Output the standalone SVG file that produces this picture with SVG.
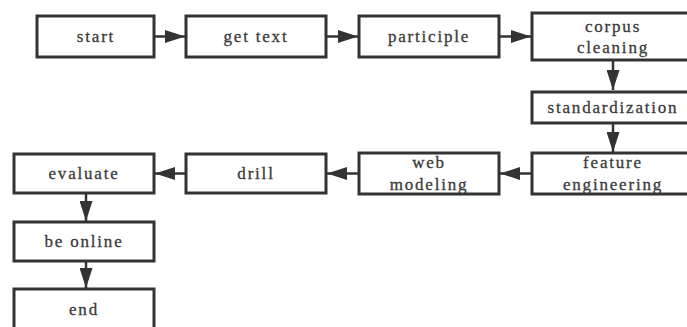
<svg xmlns="http://www.w3.org/2000/svg" width="687" height="327" viewBox="0 0 687 327">
<style>
.box{fill:#fff;stroke:#333;stroke-width:3}
.t{font-family:"Liberation Serif","Times New Roman",serif;font-size:17px;fill:#3a3a3a;letter-spacing:1.8px;text-anchor:middle;stroke:#3a3a3a;stroke-width:0.3}
.c{fill:none;stroke:#333;stroke-width:2.5}
</style>
<defs>
<marker id="ah" markerUnits="userSpaceOnUse" markerWidth="20" markerHeight="13" refX="20" refY="6.5" orient="auto" viewBox="0 0 20 13">
<path d="M0,0 L20,6.5 L0,13 Z" fill="#333"/>
</marker>
</defs>
<rect width="687" height="327" fill="#fff"/>
<g id="connectors">
<line class="c" x1="154" y1="36.5" x2="185" y2="36.5" marker-end="url(#ah)"/>
<line class="c" x1="326" y1="36.5" x2="358" y2="36.5" marker-end="url(#ah)"/>
<line class="c" x1="499" y1="36.5" x2="531" y2="36.5" marker-end="url(#ah)"/>
<line class="c" x1="613" y1="60" x2="613" y2="90" marker-end="url(#ah)"/>
<line class="c" x1="613" y1="123" x2="613" y2="152" marker-end="url(#ah)"/>
<line class="c" x1="532" y1="173.5" x2="500" y2="173.5" marker-end="url(#ah)"/>
<line class="c" x1="359" y1="173.5" x2="327" y2="173.5" marker-end="url(#ah)"/>
<line class="c" x1="186" y1="173.5" x2="155" y2="173.5" marker-end="url(#ah)"/>
<line class="c" x1="86" y1="193" x2="86" y2="221" marker-end="url(#ah)"/>
<line class="c" x1="86" y1="261" x2="86" y2="288" marker-end="url(#ah)"/>
</g>
<g id="start"><rect class="box" x="37" y="16" width="117" height="41"/><text class="t" x="96" y="42">start</text></g>
<g id="gettext"><rect class="box" x="186" y="16" width="140" height="41"/><text class="t" x="256" y="42">get text</text></g>
<g id="participle"><rect class="box" x="359" y="16" width="140" height="41"/><text class="t" x="429" y="42">participle</text></g>
<g id="corpus"><rect class="box" x="532" y="13" width="162" height="47"/><text class="t" x="613" y="32">corpus</text><text class="t" x="613" y="53">cleaning</text></g>
<g id="standardization"><rect class="box" x="532" y="92" width="162" height="31"/><text class="t" x="613" y="113">standardization</text></g>
<g id="feature"><rect class="box" x="532" y="153" width="162" height="41"/><text class="t" x="613" y="168">feature</text><text class="t" x="613" y="190">engineering</text></g>
<g id="web"><rect class="box" x="359" y="153" width="140" height="41"/><text class="t" x="429" y="168">web</text><text class="t" x="429" y="190">modeling</text></g>
<g id="drill"><rect class="box" x="186" y="154" width="140" height="39"/><text class="t" x="256" y="179">drill</text></g>
<g id="evaluate"><rect class="box" x="14" y="154" width="140" height="39"/><text class="t" x="84" y="179">evaluate</text></g>
<g id="online"><rect class="box" x="14" y="222" width="140" height="39"/><text class="t" x="84" y="247">be online</text></g>
<g id="end"><rect class="box" x="14" y="289" width="140" height="50"/><text class="t" x="84" y="315">end</text></g>
</svg>
